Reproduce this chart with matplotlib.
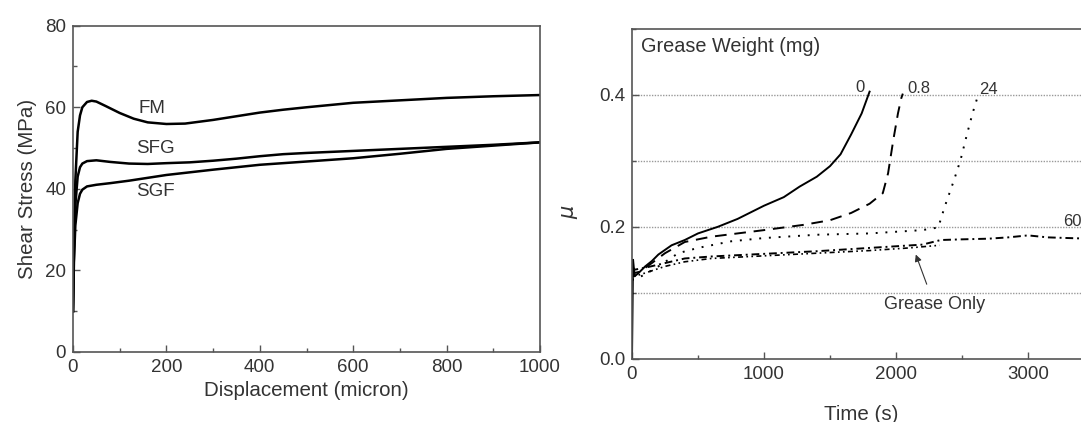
import numpy as np
import matplotlib
matplotlib.use("Agg")
import matplotlib.pyplot as plt
from matplotlib.ticker import MultipleLocator

plt.rcParams['font.family'] = ['Liberation Sans', 'DejaVu Sans']
plt.rcParams['text.color'] = '#333333'
plt.rcParams['axes.labelcolor'] = '#333333'
plt.rcParams['xtick.color'] = '#555555'
plt.rcParams['ytick.color'] = '#555555'
plt.rcParams['xtick.labelcolor'] = '#333333'
plt.rcParams['ytick.labelcolor'] = '#333333'

# ---- left panel: shear stress vs displacement ----
fm_x = [0, 2, 5, 10, 15, 20, 30, 40, 50, 70, 100, 130, 160, 200, 240, 300, 350,
        400, 450, 500, 600, 700, 800, 900, 1000]
fm_y = [10, 25, 42, 54, 58, 60, 61.3, 61.6, 61.4, 60.3, 58.6, 57.2, 56.3, 55.9,
        56.0, 56.9, 57.8, 58.7, 59.4, 60.0, 61.1, 61.7, 62.3, 62.7, 63.0]

sfg_x = [0, 2, 5, 10, 15, 20, 30, 50, 80, 120, 160, 200, 250, 300, 350, 400,
         450, 500, 600, 700, 800, 900, 1000]
sfg_y = [10, 25, 36, 43, 45.3, 46.2, 46.8, 47.0, 46.6, 46.2, 46.1, 46.3, 46.5,
         46.9, 47.4, 48.0, 48.5, 48.8, 49.3, 49.8, 50.3, 50.8, 51.4]

sgf_x = [0, 2, 5, 10, 15, 20, 30, 50, 80, 120, 160, 200, 300, 400, 500, 600,
         700, 800, 900, 1000]
sgf_y = [10, 22, 31, 36.5, 38.8, 39.8, 40.6, 41.0, 41.4, 42.0, 42.7, 43.4, 44.7,
         45.9, 46.7, 47.5, 48.6, 49.8, 50.6, 51.4]

# ---- right panel: friction coefficient vs time ----
g0_t = [0, 8, 20, 50, 100, 150, 200, 300, 400, 500, 650, 800, 1000, 1150, 1270,
        1400, 1500, 1580, 1660, 1740, 1800]
g0_mu = [0.0, 0.15, 0.125, 0.13, 0.14, 0.148, 0.158, 0.172, 0.18, 0.19, 0.2,
         0.212, 0.232, 0.245, 0.261, 0.276, 0.292, 0.31, 0.34, 0.372, 0.405]

g08_t = [0, 10, 20, 60, 150, 250, 400, 600, 800, 1000, 1300, 1500, 1660, 1800,
         1900, 1940, 1980, 2015, 2040, 2052]
g08_mu = [0.14, 0.135, 0.13, 0.132, 0.145, 0.16, 0.177, 0.185, 0.19, 0.195,
          0.203, 0.21, 0.221, 0.235, 0.251, 0.281, 0.332, 0.372, 0.395, 0.402]

g24_t = [0, 20, 100, 200, 350, 500, 750, 1000, 1400, 1800, 2200, 2320, 2370,
         2440, 2490, 2540, 2580, 2615]
g24_mu = [0.12, 0.12, 0.128, 0.14, 0.16, 0.168, 0.178, 0.183, 0.188, 0.19,
          0.195, 0.199, 0.231, 0.271, 0.302, 0.342, 0.372, 0.395]

g60_t = [0, 20, 100, 250, 400, 600, 1000, 1400, 1800, 2200, 2340, 2500, 2700,
         2850, 3000, 3150, 3300, 3470]
g60_mu = [0.14, 0.135, 0.138, 0.145, 0.152, 0.155, 0.159, 0.163, 0.168, 0.173,
          0.18, 0.181, 0.182, 0.184, 0.187, 0.184, 0.183, 0.182]

gonly_t = [0, 20, 100, 250, 400, 600, 1000, 1400, 1800, 2100, 2330]
gonly_mu = [0.13, 0.125, 0.13, 0.14, 0.147, 0.152, 0.156, 0.16, 0.164, 0.168,
            0.172]

W, H = 1081, 422
fig = plt.figure(figsize=(W / 100, H / 100), dpi=100)

# left axes
ax1 = fig.add_axes([73 / W, (H - 352) / H, 467 / W, 326.3 / H])
ax1.plot(fm_x, fm_y, color='black', lw=1.8)
ax1.plot(sfg_x, sfg_y, color='black', lw=1.8)
ax1.plot(sgf_x, sgf_y, color='black', lw=1.8)
ax1.set_xlim(0, 1000)
ax1.set_ylim(0, 80)
ax1.xaxis.set_major_locator(MultipleLocator(200))
ax1.xaxis.set_minor_locator(MultipleLocator(100))
ax1.yaxis.set_major_locator(MultipleLocator(20))
ax1.yaxis.set_minor_locator(MultipleLocator(10))
ax1.set_xlabel('Displacement (micron)', fontsize=14.8, labelpad=4)
ax1.set_ylabel('Shear Stress (MPa)', fontsize=14.8, labelpad=6)
ax1.text(169, 59.8, 'FM', fontsize=13.5, ha='center', va='center')
ax1.text(176, 50.0, 'SFG', fontsize=13.5, ha='center', va='center')
ax1.text(176, 39.4, 'SGF', fontsize=13.5, ha='center', va='center')

# right axes
ax2 = fig.add_axes([632 / W, (H - 358.7) / H, 458 / W, 329.7 / H])
for yv in [0.1, 0.2, 0.3, 0.4]:
    ax2.axhline(yv, color='#999999', lw=1.0, ls=(0, (1, 1)), zorder=0)
ax2.plot(g0_t, g0_mu, color='black', lw=1.4)
ax2.plot(g08_t, g08_mu, color='black', lw=1.4, ls=(0, (6, 4)))
ax2.plot(g24_t, g24_mu, color='black', lw=1.4, ls=(0, (1, 4)))
ax2.plot(g60_t, g60_mu, color='black', lw=1.4, ls=(0, (4, 2, 1, 2)))
ax2.plot(gonly_t, gonly_mu, color='black', lw=1.2, ls=(0, (3, 2, 1, 2, 1, 2)))
ax2.set_xlim(0, 3470)
ax2.set_ylim(0, 0.5)
ax2.xaxis.set_major_locator(MultipleLocator(1000))
ax2.xaxis.set_minor_locator(MultipleLocator(500))
ax2.set_yticks([0.0, 0.2, 0.4])
ax2.set_yticklabels(['0.0', '0.2', '0.4'])
ax2.yaxis.set_minor_locator(MultipleLocator(0.1))
ax2.set_xlabel('Time (s)', fontsize=14.8, labelpad=16)
ax2.set_ylabel(r'$\mu$', fontsize=15)
ax2.yaxis.set_label_coords(-0.114, 0.445)
ax2.text(65, 0.473, 'Grease Weight (mg)', fontsize=14.3, ha='left', va='center')
ax2.text(1729, 0.411, '0', fontsize=12, ha='center', va='center')
ax2.text(2175, 0.41, '0.8', fontsize=12, ha='center', va='center')
ax2.text(2698, 0.408, '24', fontsize=12, ha='center', va='center')
ax2.text(3340, 0.208, '60', fontsize=12, ha='center', va='center')
ax2.annotate('Grease Only', xy=(2150, 0.158), xytext=(2290, 0.082),
             fontsize=13, ha='center', va='center',
             arrowprops=dict(arrowstyle='-|>', color='#333333', lw=0.8,
                             shrinkA=7, shrinkB=0, mutation_scale=10))

for ax in (ax1, ax2):
    ax.tick_params(which='both', direction='in', labelsize=13.5, width=1)
    ax.tick_params(which='major', length=5, pad=5)
    ax.tick_params(which='minor', length=3)
    for s in ax.spines.values():
        s.set_color('#555555')
        s.set_linewidth(1.2)

fig.savefig('out.png', dpi=100)
